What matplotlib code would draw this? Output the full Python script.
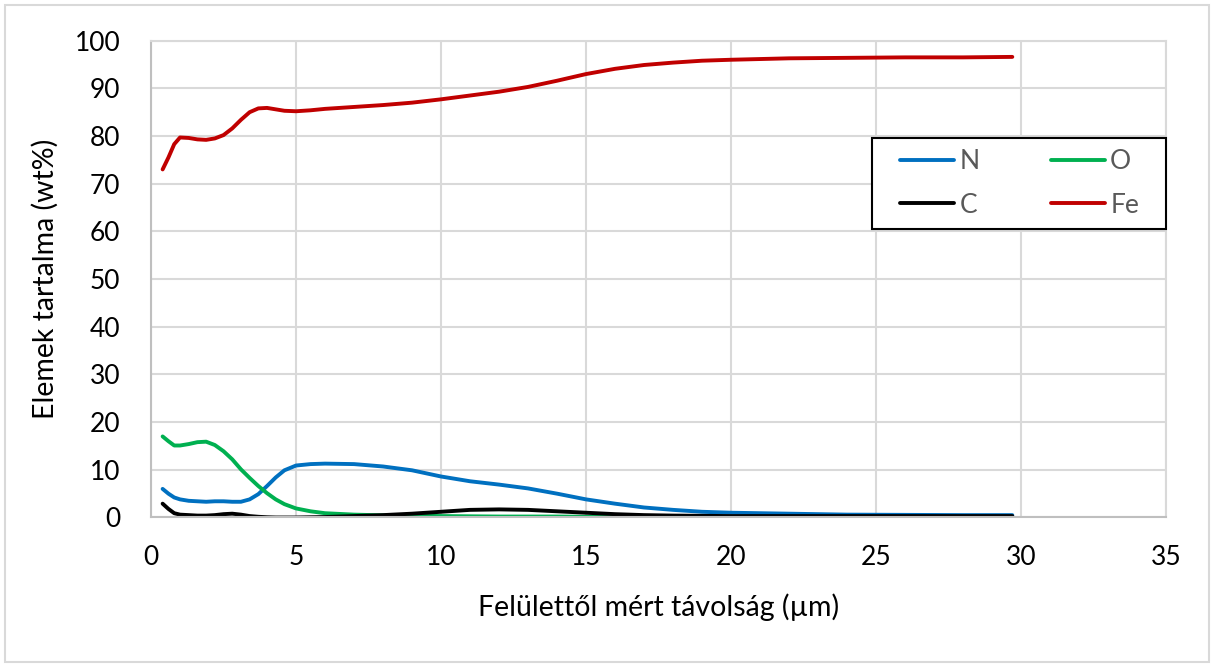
import matplotlib
matplotlib.use("Agg")
import matplotlib.pyplot as plt
from matplotlib.patches import Rectangle

# distance from surface (um) and element content (wt%)
distance = [0.4, 0.6, 0.8, 1.0, 1.3, 1.6, 1.9, 2.2, 2.5, 2.8,
            3.1, 3.4, 3.7, 4.0, 4.3, 4.6, 5.0, 5.5, 6.0, 7.0,
            8.0, 9.0, 10.0, 11.0, 12.0, 13.0, 14.0, 15.0, 16.0, 17.0,
            18.0, 19.0, 20.0, 22.0, 24.0, 26.0, 28.0, 29.7]
n_wt = [6.0, 5.0, 4.2, 3.8, 3.5, 3.4, 3.3, 3.4, 3.4, 3.3,
        3.3, 3.8, 4.9, 6.6, 8.4, 9.9, 10.9, 11.2, 11.3, 11.2,
        10.7, 9.9, 8.6, 7.6, 6.9, 6.1, 5.0, 3.8, 2.9, 2.1,
        1.6, 1.2, 1.0, 0.8, 0.6, 0.55, 0.5, 0.5]
o_wt = [17.0, 16.0, 15.1, 15.1, 15.4, 15.8, 15.9, 15.2, 13.9, 12.2,
        10.1, 8.3, 6.6, 5.1, 3.8, 2.8, 1.9, 1.3, 0.9, 0.6,
        0.45, 0.4, 0.3, 0.25, 0.2, 0.2, 0.2, 0.15, 0.15, 0.1,
        0.1, 0.1, 0.1, 0.1, 0.1, 0.1, 0.1, 0.1]
c_wt = [2.9, 1.8, 0.9, 0.6, 0.5, 0.4, 0.4, 0.5, 0.7, 0.8,
        0.6, 0.3, 0.15, 0.05, 0.0, 0.0, 0.0, 0.05, 0.1, 0.3,
        0.5, 0.8, 1.2, 1.6, 1.7, 1.6, 1.3, 1.0, 0.7, 0.5,
        0.4, 0.35, 0.3, 0.3, 0.3, 0.3, 0.3, 0.3]
fe_wt = [73.0, 75.5, 78.3, 79.7, 79.6, 79.3, 79.2, 79.5, 80.2, 81.6,
         83.4, 85.0, 85.8, 85.9, 85.6, 85.3, 85.2, 85.4, 85.7, 86.1,
         86.5, 87.0, 87.7, 88.5, 89.3, 90.3, 91.6, 93.0, 94.1, 94.9,
         95.4, 95.8, 96.0, 96.3, 96.4, 96.5, 96.5, 96.6]

x_ticks = [0, 5, 10, 15, 20, 25, 30, 35]
y_ticks = [0, 10, 20, 30, 40, 50, 60, 70, 80, 90, 100]

plt.rcParams['font.family'] = ['Lato', 'DejaVu Sans']

fig = plt.figure(figsize=(12.17, 6.68), dpi=100)
# light outer chart border
fig.patches.append(Rectangle((5 / 1217, 6 / 668), 1204 / 1217, 657 / 668,
                             transform=fig.transFigure, fill=False,
                             edgecolor='#d9d9d9', linewidth=1.5))

ax = fig.add_axes([0.1241, 0.2253, 0.834, 0.7138])

line_kw = dict(lw=2.8, solid_capstyle='round', solid_joinstyle='round')
ax.plot(distance, n_wt, color='#0070C0', label='N', **line_kw)
ax.plot(distance, o_wt, color='#00B050', label='O', **line_kw)
ax.plot(distance, c_wt, color='black', label='C', **line_kw)
ax.plot(distance, fe_wt, color='#C00000', label='Fe', **line_kw)

ax.set_xlim(0, 35)
ax.set_ylim(0, 100)
ax.set_xticks(x_ticks)
ax.set_yticks(y_ticks)
ax.tick_params(axis='both', length=0, labelsize=19, colors='black')
ax.tick_params(axis='x', pad=20)
ax.tick_params(axis='y', pad=22)
ax.grid(True, color='#d9d9d9', lw=1.5)
ax.set_axisbelow(True)
for side in ['left', 'bottom']:
    ax.spines[side].set_color('#bfbfbf')
    ax.spines[side].set_linewidth(1.5)
for side in ['top', 'right']:
    ax.spines[side].set_color('#d9d9d9')
    ax.spines[side].set_linewidth(1.5)

ax.set_xlabel('Felülettől mért távolság (µm)', fontsize=20.5, va='center', ha='center')
ax.set_ylabel('Elemek tartalma (wt%)', fontsize=20.5, va='center', ha='center')
ax.xaxis.set_label_coords(0.5, -0.1877)
ax.yaxis.set_label_coords(-0.1044, 0.5)

# legend box with white fill
ax.add_patch(Rectangle((0.710, 0.605), 0.290, 0.191, transform=ax.transAxes,
                       facecolor='white', edgecolor='black', linewidth=1.5,
                       zorder=5, clip_on=False))
handles, labels = ax.get_legend_handles_labels()
order = [0, 2, 1, 3]
leg = ax.legend([handles[i] for i in order], [labels[i] for i in order],
                loc='center', bbox_to_anchor=(0.8557, 0.7005), ncol=2,
                frameon=False, fontsize=19, handlelength=2.05, handletextpad=0.2,
                columnspacing=2.7, labelspacing=0.7, borderpad=0.2)
leg.set_zorder(6)
for t in leg.get_texts():
    t.set_color('#595959')

plt.savefig('out.png', dpi=100)
